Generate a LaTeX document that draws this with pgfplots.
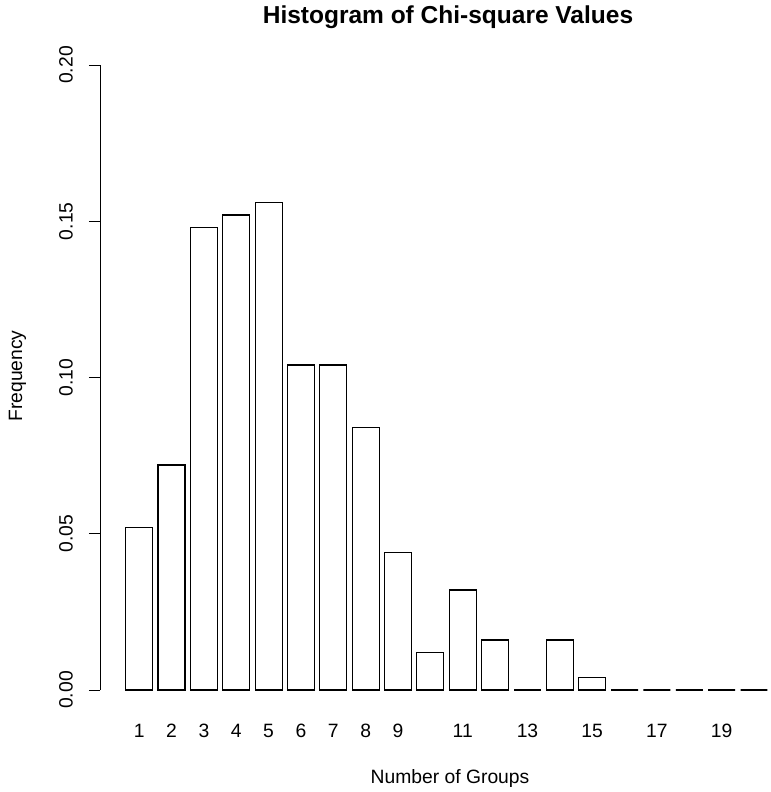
\documentclass[border=0pt]{standalone}
\usepackage{pgfplots}
\pgfplotsset{compat=1.18}
\usepackage{fontspec}
\setmainfont{Liberation Sans}
\begin{document}
\begin{tikzpicture}[x=1bp,y=1bp]
\begin{axis}[
  name=ax,
  at={(0,0)}, anchor=south west,
  scale only axis,
  width=671bp, height=675bp,
  xmin=-0.752, xmax=24.13,
  ymin=-0.008, ymax=0.208,
  axis line style={draw=none},
  font=\fontsize{19.3bp}{23bp}\selectfont,
  /pgf/number format/assume math mode=true,
  ytick={0,0.05,0.1,0.15,0.2},
  scaled y ticks=false,
  yticklabel style={/pgf/number format/fixed,/pgf/number format/precision=2,/pgf/number format/fixed zerofill,rotate=90,anchor=center,yshift=23bp},
  ytick pos=left,
  tick align=outside,
  major tick length=11bp,
  ytick style={line width=0.9bp, black},
  xtick={0.7,1.9,3.1,4.3,5.5,6.7,7.9,9.1,10.3,12.7,15.1,17.5,19.9,22.3},
  xticklabels={1,2,3,4,5,6,7,8,9,11,13,15,17,19},
  xtick style={draw=none},
  xtick pos=bottom,
  xticklabel style={anchor=center, yshift=-5bp},
  clip=false,
  title={\fontsize{24.5bp}{29bp}\selectfont\bfseries Histogram of Chi-square Values},
  title style={at={(axis description cs:0.5186,1)}, anchor=base, yshift=11bp},
  xlabel={Number of Groups},
  xlabel style={at={(axis description cs:0.5216,0)}, anchor=base, yshift=-68bp},
  ylabel={Frequency},
  ylabel style={at={(axis description cs:-0.1162,0.5022)}, anchor=base, rotate=0},
]
\addplot[ybar, bar width=1, bar shift=0, fill=white, draw=black, line width=1.1bp]
coordinates {
(0.7,0.052) (1.9,0.072) (3.1,0.148) (4.3,0.152) (5.5,0.156)
(6.7,0.104) (7.9,0.104) (9.1,0.084) (10.3,0.044) (11.5,0.012)
(12.7,0.032) (13.9,0.016) (15.1,0) (16.3,0.016) (17.5,0.004)
(18.7,0) (19.9,0) (21.1,0) (22.3,0) (23.5,0)
};
\draw[line width=0.9bp] (axis cs:-0.752,0) -- (axis cs:-0.752,0.2);
\end{axis}
\pgfresetboundingbox
\path[use as bounding box] ([shift={(-100bp,-77bp)}]ax.south west) rectangle ([shift={(0bp,40bp)}]ax.north east);
\end{tikzpicture}
\end{document}
